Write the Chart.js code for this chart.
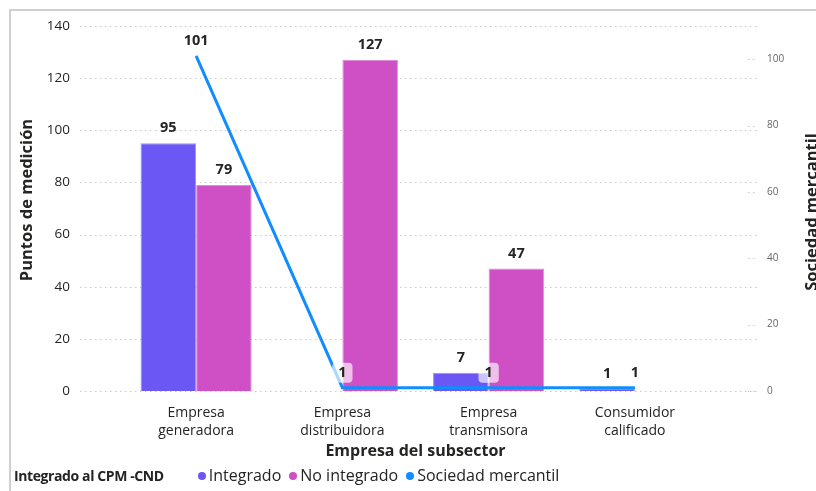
<!DOCTYPE html>
<html>
<head>
<meta charset="utf-8">
<script src="https://cdn.jsdelivr.net/npm/chart.js@4.4.1/dist/chart.umd.min.js"></script>
<style>
  html, body { margin: 0; padding: 0; background: #fff; }
  #wrap { position: relative; width: 816px; height: 491px; overflow: hidden; font-family: 'Open Sans', sans-serif; }
  #frame { position: absolute; left: 9px; top: 9px; width: 900px; height: 600px; border: 2px solid #d0d0d0; box-sizing: border-box; }
  canvas { position: absolute; left: 0; top: 0; }
  #legend { position: absolute; left: 14px; top: 464px; color: #252423; white-space: nowrap; }
  #legend b { font-size: 14px; letter-spacing: -0.4px; margin-right: 34px; }
  #legend span.item { font-size: 16px; margin-right: 8px; }
  #legend i { display: inline-block; width: 8px; height: 8px; border-radius: 50%; margin-right: 3px; vertical-align: 1px; }
</style>
</head>
<body>
<div id="wrap">
  <div id="frame"></div>
  <canvas id="chart" width="816" height="491"></canvas>
  <div id="legend"></div>
</div>
<script>
// === DATA ===
const categories = [['Empresa', 'generadora'], ['Empresa', 'distribuidora'], ['Empresa', 'transmisora'], ['Consumidor', 'calificado']];
const integrado = [95, null, 7, 1];
const noIntegrado = [79, 127, 47, null];
const sociedadMercantil = [101, 1, 1, 1];
const leftTicks = [0, 20, 40, 60, 80, 100, 120, 140];
const rightTicks = [0, 20, 40, 60, 80, 100];

const FONT = "'Open Sans', sans-serif";
const TEXT = '#252423';

// dotted gridlines that run past the plot like the original
const gridPlugin = {
    id: 'gridLines',
    beforeDatasetsDraw(chart) {
        const ctx = chart.ctx;
        const y = chart.scales.y, y1 = chart.scales.y1;
        ctx.save();
        ctx.strokeStyle = '#c8c8c8';
        ctx.lineWidth = 1;
        ctx.setLineDash([1.5, 3.5]);
        leftTicks.forEach(function(v) {
            const py = Math.round(y.getPixelForValue(v)) + 0.5;
            ctx.beginPath();
            ctx.moveTo(80, py);
            ctx.lineTo(757, py);
            ctx.stroke();
        });
        rightTicks.forEach(function(v) {
            const py = Math.round(y1.getPixelForValue(v)) + 0.5;
            ctx.beginPath();
            ctx.moveTo(748, py);
            ctx.lineTo(757, py);
            ctx.stroke();
        });
        ctx.restore();
    }
};

// both vertical axis titles read bottom-to-top
const axisTitlePlugin = {
    id: 'axisTitles',
    afterDraw(chart) {
        const ctx = chart.ctx;
        ctx.save();
        ctx.fillStyle = TEXT;
        ctx.textAlign = 'center';
        ctx.textBaseline = 'middle';
        [['Puntos de medición', 27, 200], ['Sociedad mercantil', 812, 212]].forEach(function(t) {
            ctx.save();
            ctx.font = 'bold 16.5px ' + FONT;
            ctx.translate(t[1], t[2]);
            ctx.rotate(-Math.PI / 2);
            ctx.fillText(t[0], 0, 0);
            ctx.restore();
        });
        ctx.restore();
    }
};

// value labels above bars and line points
const labelPlugin = {
    id: 'valueLabels',
    afterDatasetsDraw(chart) {
        const ctx = chart.ctx;
        ctx.save();
        ctx.font = 'bold 14.5px ' + FONT;
        ctx.textAlign = 'center';
        ctx.textBaseline = 'middle';
        chart.data.datasets.forEach(function(ds, di) {
            const meta = chart.getDatasetMeta(di);
            meta.data.forEach(function(el, i) {
                const v = ds.data[i];
                if (v === null || v === undefined) return;
                const x = el.x, y = el.y - 15;
                const txt = String(v);
                if (ds.type === 'line' && v < 10) {
                    const w = ctx.measureText(txt).width + 12;
                    ctx.fillStyle = 'rgba(255,255,255,0.65)';
                    ctx.beginPath();
                    ctx.roundRect(x - w / 2, y - 10, w, 20, 4);
                    ctx.fill();
                }
                ctx.fillStyle = TEXT;
                ctx.fillText(txt, x, y);
            });
        });
        ctx.restore();
    }
};

function noVerticalPadding(scale) {
    scale.paddingTop = 0;
    scale.paddingBottom = 0;
}

const chart = new Chart(document.getElementById('chart'), {
    data: {
        labels: categories,
        datasets: [{
            type: 'line',
            label: 'Sociedad mercantil',
            data: sociedadMercantil,
            yAxisID: 'y1',
            borderColor: '#118dff',
            backgroundColor: '#118dff',
            borderWidth: 3,
            pointRadius: 0,
            tension: 0,
            order: 0
        }, {
            type: 'bar',
            label: 'Integrado',
            data: integrado,
            yAxisID: 'y',
            backgroundColor: '#6b57f3',
            borderColor: '#9c8ff8',
            borderWidth: 1,
            categoryPercentage: 0.76,
            barPercentage: 1,
            order: 1
        }, {
            type: 'bar',
            label: 'No integrado',
            data: noIntegrado,
            yAxisID: 'y',
            backgroundColor: '#cf4fc5',
            borderColor: '#e08ad9',
            borderWidth: 1,
            categoryPercentage: 0.76,
            barPercentage: 1,
            order: 1
        }]
    },
    options: {
        responsive: false,
        animation: false,
        layout: { padding: { top: 26, left: 0, right: 0, bottom: 0 } },
        plugins: { legend: { display: false }, tooltip: { enabled: false } },
        scales: {
            x: {
                grid: { display: false },
                border: { display: false },
                ticks: { font: { family: FONT, size: 14, lineHeight: 1.3 }, color: TEXT, padding: 5, maxRotation: 0 },
                title: { display: true, text: 'Empresa del subsector', font: { family: FONT, size: 16, weight: 'bold', lineHeight: 1.2 }, color: TEXT, padding: { top: 0, bottom: 30 } },
                afterFit: function(scale) { scale.height = 100; }
            },
            y: {
                position: 'left',
                min: 0, max: 140,
                grid: { display: false },
                border: { display: false },
                ticks: { stepSize: 20, font: { family: FONT, size: 13.5 }, color: TEXT, padding: 45 },
                afterFit: function(scale) { scale.width = 123; noVerticalPadding(scale); }
            },
            y1: {
                position: 'right',
                min: 0, max: 110,
                grid: { display: false },
                border: { display: false },
                ticks: { stepSize: 20, font: { family: FONT, size: 10 }, color: '#666', padding: 51 },
                afterBuildTicks: function(scale) { scale.ticks = scale.ticks.filter(function(t) { return t.value <= 100; }); },
                afterFit: function(scale) { scale.width = 108; noVerticalPadding(scale); }
            }
        }
    },
    plugins: [gridPlugin, labelPlugin, axisTitlePlugin]
});

// HTML legend built from the datasets
const legendEl = document.getElementById('legend');
let html = '<b>Integrado al CPM -CND</b>';
[1, 2, 0].forEach(function(i) {
    const ds = chart.data.datasets[i];
    html += '<span class="item"><i style="background:' + ds.backgroundColor + '"></i>' + ds.label + '</span>';
});
legendEl.innerHTML = html;
</script>
</body>
</html>
